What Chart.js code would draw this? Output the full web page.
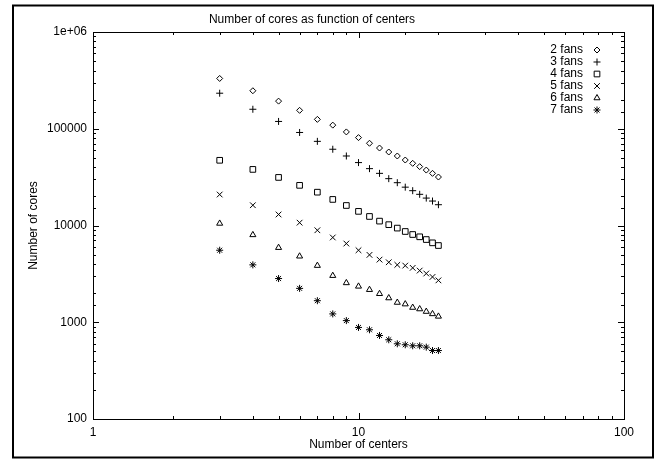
<!DOCTYPE html>
<html>
<head>
<meta charset="utf-8">
<script src="https://cdn.jsdelivr.net/npm/chart.js@4/dist/chart.umd.min.js"></script>
<style>
  html, body { margin: 0; padding: 0; background: #fff; }
  #wrap { width: 656px; height: 460px; position: relative; }
</style>
</head>
<body>
<div id="wrap"><canvas id="chart"></canvas></div>
<script>
// Données
const centers = [3, 4, 5, 6, 7, 8, 9, 10, 11, 12, 13, 14, 15, 16, 17, 18, 19, 20];
const fans2 = [331000, 247000, 193000, 155000, 125000, 109000, 92700, 81000, 70800, 63200, 57500, 52300, 47500, 43900, 40600, 37400, 34600, 31700];
const fans3 = [233000, 159000, 119000, 91500, 74100, 61400, 52300, 44700, 38700, 34600, 30500, 27700, 24900, 22900, 21000, 19200, 17900, 16400];
const fans4 = [47200, 38000, 31400, 26000, 22100, 18600, 16100, 14000, 12400, 11100, 10200, 9400, 8670, 8070, 7640, 7160, 6620, 6210];
const fans5 = [20900, 16200, 13000, 10700, 8930, 7520, 6510, 5550, 4970, 4440, 4170, 3920, 3850, 3650, 3420, 3190, 2940, 2710];
const fans6 = [10500, 8000, 5900, 4810, 3850, 3030, 2550, 2350, 2170, 1970, 1780, 1600, 1540, 1420, 1370, 1290, 1220, 1150];
const fans7 = [5550, 3920, 2830, 2240, 1670, 1220, 1040, 884, 836, 730, 659, 599, 585, 571, 571, 553, 510, 510];

const seriesLabels = ['2 fans', '3 fans', '4 fans', '5 fans', '6 fans', '7 fans'];
const seriesValues = [fans2, fans3, fans4, fans5, fans6, fans7];
const xTickLabels = { 1: '1', 10: '10', 100: '100' };
const yTickLabels = { 100: '100', 1000: '1000', 10000: '10000', 100000: '100000', 1000000: '1e+06' };

const styles = [
    { pointStyle: 'rectRot', pointRadius: 3 },
    { pointStyle: 'cross', pointRadius: 3.5 },
    { pointStyle: 'rect', pointRadius: 4 },
    { pointStyle: 'crossRot', pointRadius: 4 },
    { pointStyle: 'triangle', pointRadius: 3.5 },
    { pointStyle: 'star', pointRadius: 3.5 }
];

const FONT = 'Liberation Sans, Arial, Helvetica, sans-serif';

const datasets = seriesValues.map(function (vals, i) {
    return {
        label: seriesLabels[i],
        data: centers.map(function (c, j) { return { x: c, y: vals[j] }; }),
        pointStyle: styles[i].pointStyle,
        pointRadius: styles[i].pointRadius,
        pointHoverRadius: styles[i].pointRadius,
        borderColor: '#000',
        backgroundColor: 'rgba(255,255,255,0)',
        pointBorderWidth: 1,
        showLine: false
    };
});

// Cadre extérieur, cadre du graphique, graduations internes, légende
const decorPlugin = {
    id: 'decor',
    beforeDraw: function (chart) {
        const ctx = chart.ctx;
        ctx.save();
        ctx.fillStyle = '#fff';
        ctx.fillRect(0, 0, chart.width, chart.height);
        ctx.strokeStyle = '#000';
        ctx.lineWidth = 2;
        ctx.strokeRect(13, 5.5, 640, 452);
        ctx.restore();
    },
    afterDatasetsDraw: function (chart) {
        const ctx = chart.ctx;
        const a = chart.chartArea;
        const xs = chart.scales.x, ys = chart.scales.y;
        ctx.save();
        ctx.strokeStyle = '#000';
        ctx.lineWidth = 1;
        ctx.strokeRect(Math.round(a.left) + 0.5, Math.round(a.top) + 0.5,
            Math.round(a.right - a.left), Math.round(a.bottom - a.top));
        ctx.beginPath();
        xs.ticks.forEach(function (t) {
            const px = Math.round(xs.getPixelForValue(t.value)) + 0.5;
            const len = t.major ? 6 : 3;
            ctx.moveTo(px, a.bottom); ctx.lineTo(px, a.bottom - len);
            ctx.moveTo(px, a.top); ctx.lineTo(px, a.top + len);
        });
        ys.ticks.forEach(function (t) {
            const py = Math.round(ys.getPixelForValue(t.value)) + 0.5;
            const len = t.major ? 6 : 3;
            ctx.moveTo(a.left, py); ctx.lineTo(a.left + len, py);
            ctx.moveTo(a.right, py); ctx.lineTo(a.right - len, py);
        });
        ctx.stroke();

        // Légende façon gnuplot : texte puis symbole
        ctx.font = '12px ' + FONT;
        ctx.textAlign = 'right';
        ctx.textBaseline = 'middle';
        chart.data.datasets.forEach(function (ds, i) {
            const y = 50 + i * 12;
            ctx.fillStyle = '#000';
            ctx.fillText(ds.label, 583, y);
            ctx.fillStyle = 'rgba(255,255,255,0)';
            ctx.strokeStyle = '#000';
            ctx.lineWidth = 1;
            Chart.helpers.drawPoint(ctx, {
                pointStyle: ds.pointStyle,
                radius: ds.pointRadius,
                rotation: 0,
                borderWidth: 1
            }, 597, y);
        });
        ctx.restore();
    }
};

new Chart(document.getElementById('chart').getContext('2d'), {
    type: 'scatter',
    data: { datasets: datasets },
    options: {
        responsive: true,
        maintainAspectRatio: false,
        animation: false,
        layout: { padding: { left: 0, right: 32, top: 0, bottom: 0 } },
        plugins: {
            legend: { display: false },
            tooltip: { enabled: false },
            title: {
                display: true,
                text: 'Number of cores as function of centers',
                color: '#000',
                font: { family: FONT, size: 12, weight: 'normal' },
                padding: { top: 12, bottom: 5.6 }
            }
        },
        scales: {
            x: {
                type: 'logarithmic',
                min: 1,
                max: 100,
                afterFit: function (s) { s.height = 41; },
                grid: { display: false, drawTicks: false },
                border: { display: false },
                ticks: {
                    color: '#000',
                    padding: 6,
                    maxRotation: 0,
                    autoSkip: false,
                    font: { family: FONT, size: 12 },
                    callback: function (v) { return xTickLabels[v] || ''; }
                },
                title: {
                    display: true,
                    text: 'Number of centers',
                    color: '#000',
                    font: { family: FONT, size: 12 },
                    padding: { top: 0, bottom: 8.5 }
                }
            },
            y: {
                type: 'logarithmic',
                min: 100,
                max: 1000000,
                afterFit: function (s) { s.width = 93; },
                grid: { display: false, drawTicks: false },
                border: { display: false },
                ticks: {
                    color: '#000',
                    padding: 6,
                    autoSkip: false,
                    font: { family: FONT, size: 12 },
                    callback: function (v) { return yTickLabels[v] || ''; }
                },
                title: {
                    display: true,
                    text: 'Number of cores',
                    color: '#000',
                    font: { family: FONT, size: 12 },
                    padding: { top: 26, bottom: 0 }
                }
            }
        }
    },
    plugins: [decorPlugin]
});
</script>
</body>
</html>
